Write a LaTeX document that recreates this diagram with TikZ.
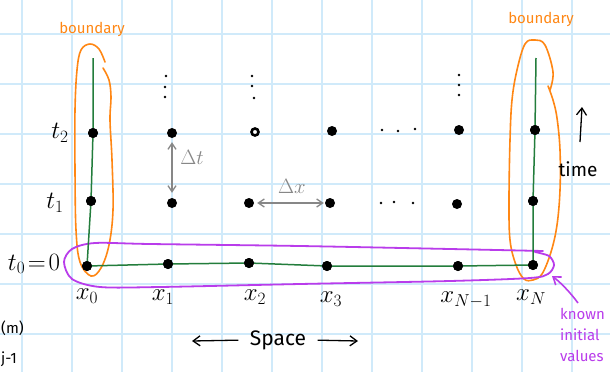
\documentclass[tikz,border=0pt]{standalone}
\usepackage{fontspec}
\setmainfont{Fira Sans}
\usetikzlibrary{arrows.meta}
\definecolor{gridblue}{RGB}{208,234,250}
\definecolor{bndorange}{RGB}{255,135,20}
\definecolor{solgreen}{RGB}{35,125,60}
\definecolor{initpurple}{RGB}{185,60,235}
\definecolor{stepgray}{RGB}{135,135,135}
\begin{document}
\begin{tikzpicture}[x=1pt,y=-1pt,
  gridline/.style={gridblue,line width=1.4pt},
  meshpt/.style={circle,fill=black,inner sep=0pt,minimum size=10pt},
  meshring/.style={circle,draw=black,fill=white,line width=2.6pt,inner sep=0pt,minimum size=7pt},
  tinydot/.style={fill=black},
  bnd/.style={bndorange,line width=1.6pt,line cap=round},
  initloop/.style={initpurple,line width=1.8pt,line cap=round},
  solline/.style={solgreen,line width=1.5pt},
  steparrow/.style={stepgray,line width=1.3pt,{Straight Barb[length=6pt,width=8pt]}-{Straight Barb[length=6pt,width=8pt]}},
  blackarrow/.style={black,line width=1.3pt,-{Straight Barb[length=7pt,width=10pt]}},
  axlbl/.style={font=\fontsize{27}{29}\selectfont},
  handtxt/.style={font=\fontsize{15}{17}\selectfont},
]
\useasboundingbox[fill=white] (0,0) rectangle (610,372);
% grid
\foreach \gx in {22,72,...,572} \draw[gridline] (\gx,0) -- (\gx,372);
\foreach \gy in {34,84,...,334} \draw[gridline] (0,\gy) -- (610,\gy);

% orange boundary loops
\draw[bnd] plot[smooth,tension=0.6] coordinates {(105,62) (99,49) (90,44) (81,50) (77,70) (75,110) (75,170) (76,230) (80,262) (91,276) (101,268) (109,245) (113,210) (112,160) (110,120) (111,97) (109,80) (103,68)};
\draw[bnd] plot[smooth,tension=0.6] coordinates {(550,90) (553,72) (545,45) (535,40) (525,44) (517,70) (512,100) (510,140) (509,200) (510,240) (516,265) (524,279) (533,280) (542,274) (551,252) (557,225) (560,190) (560,150) (557,118) (553,100) (548,86)};
\node[bndorange,handtxt] (bndL) at (92,29) {boundary};
\node[bndorange,handtxt] (bndR) at (541,19) {boundary};

% purple initial-values loop
\draw[initloop] plot[smooth,tension=0.5] coordinates {(543,251) (450,249) (300,246) (150,244) (95,243) (72,249) (64,262) (72,279) (100,287) (160,287) (300,284) (450,281) (530,278) (548,274) (554,265) (549,256) (535,252)};

% mesh points
\node[meshpt] (a0) at (87,266) {};
\node[meshpt] (a1) at (91,201) {};
\node[meshpt] (a2) at (93,133) {};
\node[meshpt] (b0) at (168,264) {};
\node[meshpt] (b1) at (172,203) {};
\node[meshpt] (b2) at (172,133) {};
\node[meshpt] (c0) at (249,263) {};
\node[meshpt] (c1) at (249,203) {};
\node[meshring] (c2) at (255,132) {};
\node[meshpt] (d0) at (327,266) {};
\node[meshpt] (d1) at (330,203) {};
\node[meshpt] (d2) at (332,131) {};
\node[meshpt] (e0) at (458,266) {};
\node[meshpt] (e1) at (457,204) {};
\node[meshpt] (e2) at (459,130) {};
\node[meshpt] (f0) at (533,265) {};
\node[meshpt] (f1) at (533,201) {};
\node[meshpt] (f2) at (535,130) {};
\coordinate (gL) at (93,58);
\coordinate (gR) at (536,58);

% green solution lines
\draw[solline] (gL) -- (a2.center) -- (a1.center) -- (a0.center) -- (b0.center) -- (c0.center) -- (d0.center) -- (e0.center) -- (f0.center) -- (f1.center) -- (f2.center) -- (gR);
% redraw points on top of the lines
\foreach \p in {a0,a1,a2,b0,f0,f1,f2,c0,d0,e0} \fill (\p) circle (5pt);

% vertical ellipses
\foreach \ex/\ey in {166/76,165/87,165/97,252/76,252/86,254/98,459/75,459/85,459/95} \fill[tinydot] (\ex,\ey) circle (1.3pt);
% horizontal ellipses
\foreach \ex/\ey in {382/130,398/131,415/129,381/203,394/202,413/203} \fill[tinydot] (\ex,\ey) circle (1.3pt);

% step arrows
\draw[steparrow,shorten <=4pt,shorten >=5pt] (b2) -- (b1);
\node[stepgray,font=\fontsize{21}{23}\selectfont] (dt) at (192,157) {$\Delta t$};
\draw[steparrow,shorten <=3pt,shorten >=1pt] (c1) -- (d1);
\node[stepgray,font=\fontsize{21}{23}\selectfont] (dx) at (292,186) {$\Delta x$};

% time labels
\node[axlbl] (t2) at (60,133) {$t_2$};
\node[axlbl] (t1) at (55,203) {$t_1$};
\node[axlbl] (t0) at (34,264) {$t_0\!=\!0$};

% space labels
\node[axlbl] (x0) at (87,296) {$x_0$};
\node[axlbl] (x1) at (163,297) {$x_1$};
\node[axlbl] (x2) at (255,297) {$x_2$};
\node[axlbl] (x3) at (331,299) {$x_3$};
\node[axlbl] (xn1) at (466,300) {$x_{N-1}$};
\node[axlbl] (xn) at (531,297) {$x_N$};

% space arrow
\node[font=\fontsize{21}{23}\selectfont] (space) at (278,340) {Space};
\coordinate (spL) at (192,341);
\coordinate (spR) at (358,341);
\draw[blackarrow,shorten <=8pt] (space.west) -- (spL);
\draw[blackarrow,shorten <=8pt] (space.east) -- (spR);

% time arrow
\coordinate (tmT) at (582,107);
\node[font=\fontsize{19}{21}\selectfont] (time) at (578,169) {time};
\coordinate (tmB) at (580,142);
\draw[blackarrow] (tmB) -- (tmT);

% known initial values
\node[initpurple,align=left,anchor=north west,inner sep=0pt,font=\fontsize{15}{21}\selectfont] (known) at (560,308) {known\\initial\\values};
\coordinate (kiTail) at (578,303);
\coordinate (kiTip) at (552,276);
\draw[initpurple,line width=1.6pt,-{Straight Barb[length=7pt,width=10pt]}] (kiTail) .. controls (570,292) and (560,282) .. (kiTip);

% text at the left edge
\node[handtxt,anchor=west,inner sep=0pt] (mm) at (1,328) {(m)};
\node[handtxt,anchor=west,inner sep=0pt] (jj) at (1,359) {j-1};
\end{tikzpicture}
\end{document}
